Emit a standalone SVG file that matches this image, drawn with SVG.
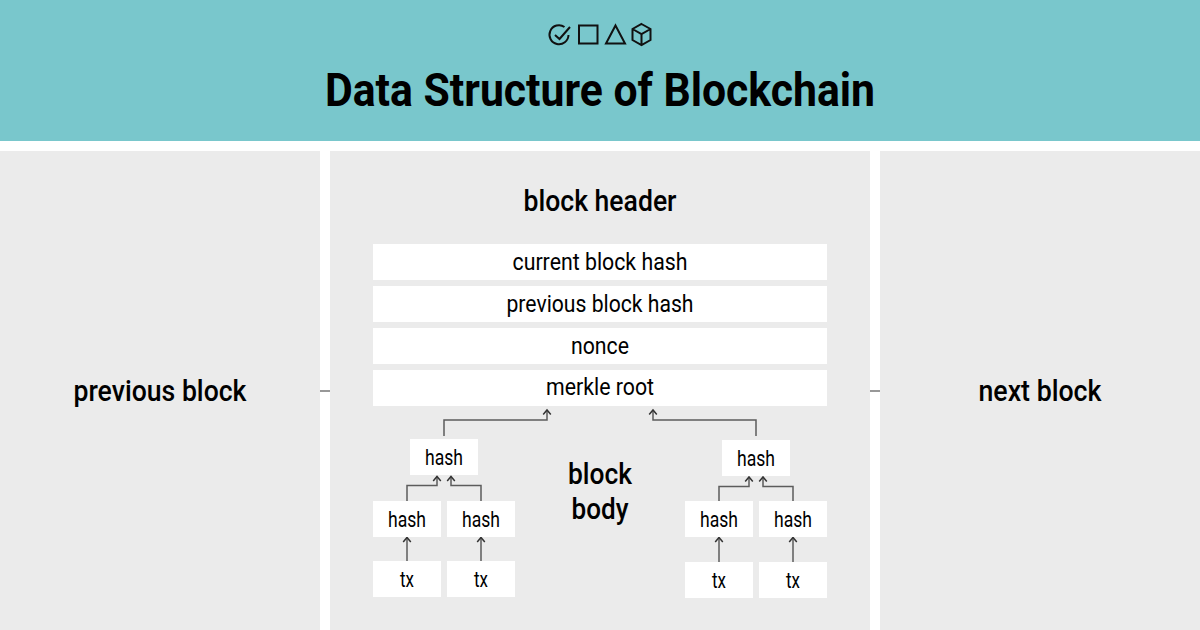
<svg xmlns="http://www.w3.org/2000/svg" width="1200" height="630" viewBox="0 0 1200 630">
<style>
text{font-family:Roboto,"Liberation Sans",sans-serif;text-anchor:middle;fill:#000}
.t{font-size:47px;font-weight:700}
.h{font-size:30px;font-weight:500}
.r{font-size:23px}
.s{font-size:22px}
.p{fill:#ebebeb}
.b{fill:#fff}
.c{fill:none;stroke:#5c5c5c;stroke-width:1.5;marker-end:url(#a)}
.l{fill:none;stroke:#777;stroke-width:1.5}
.i{fill:none;stroke:#111;stroke-width:2}
</style>
<defs><marker id="a" markerUnits="userSpaceOnUse" markerWidth="10" markerHeight="10" refX="6" refY="5" orient="auto" viewBox="0 0 10 10"><path d="M1.500 1.200L6 5L1.500 8.800" fill="none" stroke="#333" stroke-width="1.500"/></marker></defs>
<rect width="1200" height="141" fill="#79c7cc"/>
<g id="icons" class="i"><path d="M568.500 35A9.500 9.500 0 1 1 564.500 27"/><path d="M555 35l4.500 4 10.500-12"/><rect x="579" y="25.500" width="18.500" height="18"/><path d="M615.500 25.500l9.500 18h-19z"/><path d="M641.500 24l9 5v11l-9 5-9-5v-11zM632.500 29l9 5 9-5M641.500 34v11"/></g>
<text class="t" x="600" y="106" textLength="550" lengthAdjust="spacingAndGlyphs">Data Structure of Blockchain</text>
<g id="previous-block"><rect class="p" y="151" width="320" height="479"/><text class="h" x="160" y="401" textLength="173" lengthAdjust="spacingAndGlyphs">previous block</text></g>
<g id="block"><rect class="p" x="330" y="151" width="540" height="479"/><text class="h" x="600" y="211" textLength="153" lengthAdjust="spacingAndGlyphs">block header</text></g>
<g id="next-block"><rect class="p" x="880" y="151" width="320" height="479"/><text class="h" x="1040" y="401" textLength="123" lengthAdjust="spacingAndGlyphs">next block</text></g>
<g id="connectors">
<path class="l" d="M320 391H330M870 391H880"/>
<path class="c" d="M444 436V420H547V410"/>
<path class="c" d="M756 436V420H653V410"/>
<path class="c" d="M407 501V485.500H437V476.500"/>
<path class="c" d="M481 501V485.500H451V476.500"/>
<path class="c" d="M719 501V486.500H749V477"/>
<path class="c" d="M793 501V486.500H763V477"/>
<path class="c" d="M407 561V537.500"/>
<path class="c" d="M481 561V537.500"/>
<path class="c" d="M719 562V537.500"/>
<path class="c" d="M793 562V537.500"/>
</g>
<g id="body-label"><text class="h" x="600" y="484" textLength="64" lengthAdjust="spacingAndGlyphs">block</text><text class="h" x="600" y="519" textLength="57" lengthAdjust="spacingAndGlyphs">body</text></g>
<g id="current-block-hash"><rect class="b" x="373" y="244" width="454" height="36"/><text class="r" x="600" y="270" textLength="175" lengthAdjust="spacingAndGlyphs">current block hash</text></g>
<g id="previous-block-hash"><rect class="b" x="373" y="286" width="454" height="36"/><text class="r" x="600" y="312" textLength="187" lengthAdjust="spacingAndGlyphs">previous block hash</text></g>
<g id="nonce"><rect class="b" x="373" y="328" width="454" height="36"/><text class="r" x="600" y="354" textLength="58" lengthAdjust="spacingAndGlyphs">nonce</text></g>
<g id="merkle-root"><rect class="b" x="373" y="370" width="454" height="36"/><text class="r" x="600" y="395" textLength="108" lengthAdjust="spacingAndGlyphs">merkle root</text></g>
<g id="hash-l"><rect class="b" x="410" y="439" width="68" height="36"/><text class="s" x="444" y="465" textLength="38" lengthAdjust="spacingAndGlyphs">hash</text></g>
<g id="hash-r"><rect class="b" x="722" y="440" width="68" height="36"/><text class="s" x="756" y="466" textLength="38" lengthAdjust="spacingAndGlyphs">hash</text></g>
<g id="hash-l1"><rect class="b" x="373" y="501" width="68" height="36"/><text class="s" x="407" y="527" textLength="38" lengthAdjust="spacingAndGlyphs">hash</text></g>
<g id="hash-l2"><rect class="b" x="447" y="501" width="68" height="36"/><text class="s" x="481" y="527" textLength="38" lengthAdjust="spacingAndGlyphs">hash</text></g>
<g id="hash-r1"><rect class="b" x="685" y="501" width="68" height="36"/><text class="s" x="719" y="527" textLength="38" lengthAdjust="spacingAndGlyphs">hash</text></g>
<g id="hash-r2"><rect class="b" x="759" y="501" width="68" height="36"/><text class="s" x="793" y="527" textLength="38" lengthAdjust="spacingAndGlyphs">hash</text></g>
<g id="tx-l1"><rect class="b" x="373" y="561" width="68" height="36"/><text class="s" x="407" y="587" textLength="14" lengthAdjust="spacingAndGlyphs">tx</text></g>
<g id="tx-l2"><rect class="b" x="447" y="561" width="68" height="36"/><text class="s" x="481" y="587" textLength="14" lengthAdjust="spacingAndGlyphs">tx</text></g>
<g id="tx-r1"><rect class="b" x="685" y="562" width="68" height="36"/><text class="s" x="719" y="588" textLength="14" lengthAdjust="spacingAndGlyphs">tx</text></g>
<g id="tx-r2"><rect class="b" x="759" y="562" width="68" height="36"/><text class="s" x="793" y="588" textLength="14" lengthAdjust="spacingAndGlyphs">tx</text></g>
</svg>
